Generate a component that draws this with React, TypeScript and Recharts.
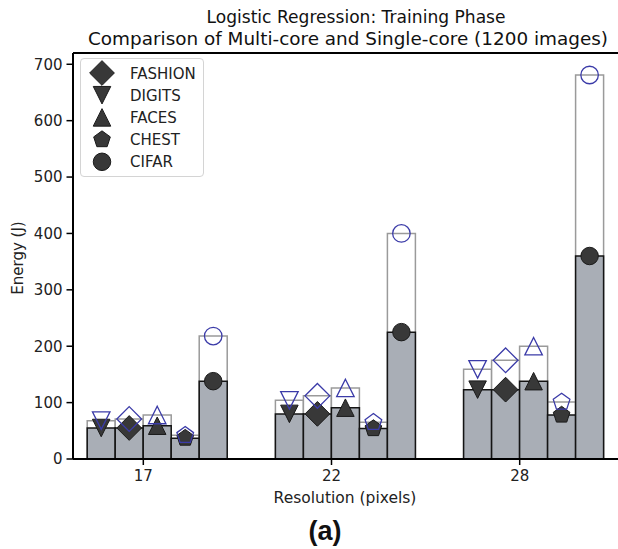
import React from 'react';
import { ComposedChart, Bar, XAxis, YAxis, Legend, ReferenceLine } from 'recharts';

// ---------- data ----------
const resolutions = ['17', '22', '28'];
const positions = [0, 1, 2];
// order of bars inside each group (left to right)
const barOrder = ['DIGITS', 'FASHION', 'FACES', 'CHEST', 'CIFAR'];
// order of entries in the legend
const legendOrder = ['FASHION', 'DIGITS', 'FACES', 'CHEST', 'CIFAR'];

// Single-core energy (J) – white bars, hollow blue markers
const singleDigits = [68, 104, 159];
const singleFashion = [71, 112, 175];
const singleFaces = [78, 126, 200];
const singleChest = [42, 65, 101];
const singleCifar = [218, 400, 681];

// Multi-core energy (J) – grey bars, filled dark markers
const multiDigits = [55, 80, 123];
const multiFashion = [55, 80, 123];
const multiFaces = [59, 91, 138];
const multiChest = [37, 54, 78];
const multiCifar = [138, 225, 360];

const yTicks = [0, 100, 200, 300, 400, 500, 600, 700];

const singleSeries: Record<string, number[]> = {
  DIGITS: singleDigits,
  FASHION: singleFashion,
  FACES: singleFaces,
  CHEST: singleChest,
  CIFAR: singleCifar,
};
const multiSeries: Record<string, number[]> = {
  DIGITS: multiDigits,
  FASHION: multiFashion,
  FACES: multiFaces,
  CHEST: multiChest,
  CIFAR: multiCifar,
};

const markerOf: Record<string, string> = {
  FASHION: 'diamond',
  DIGITS: 'triangleDown',
  FACES: 'triangleUp',
  CHEST: 'pentagon',
  CIFAR: 'circle',
};

const rows = positions.map((p, i) => {
  const r: Record<string, number | string> = { pos: p, label: resolutions[i] };
  barOrder.forEach((name) => {
    r[`${name}_s`] = singleSeries[name][i];
    r[`${name}_m`] = multiSeries[name][i];
  });
  return r;
});

// ---------- styling ----------
const FONT = '"DejaVu Sans", sans-serif';
const BAR_SIZE = 28;
const HALF_BAR = BAR_SIZE / 2;
const MARKER = 17.5;
const BLUE = '#3b3ba8';
const GREY_FILL = '#a9aeb6';
const X_DOMAIN: [number, number] = [-0.448, 2.448];

function Marker({ shape, cx, cy, size, fill, stroke, strokeWidth }: any) {
  const h = size / 2;
  const common = { fill, stroke, strokeWidth, strokeLinejoin: 'miter' as const };
  if (shape === 'circle') return <circle cx={cx} cy={cy} r={h} {...common} />;
  let pts: [number, number][] = [];
  if (shape === 'diamond') {
    const d = size / Math.SQRT2;
    pts = [[cx, cy - d], [cx + d, cy], [cx, cy + d], [cx - d, cy]];
  } else if (shape === 'triangleUp') {
    pts = [[cx, cy - h], [cx + h, cy + h], [cx - h, cy + h]];
  } else if (shape === 'triangleDown') {
    pts = [[cx, cy + h], [cx + h, cy - h], [cx - h, cy - h]];
  } else if (shape === 'pentagon') {
    for (let k = 0; k < 5; k++) {
      const a = (-90 + k * 72) * (Math.PI / 180);
      pts.push([cx + h * Math.cos(a), cy + h * Math.sin(a)]);
    }
  }
  return <polygon points={pts.map((p) => p.join(',')).join(' ')} {...common} />;
}

const XTick = (props: any) => {
  const { x, y, payload } = props;
  const tx = x - HALF_BAR;
  return (
    <g>
      <line x1={tx} x2={tx} y1={y - 8} y2={y - 2} stroke="#000" strokeWidth={1.5} />
      <text x={tx} y={y + 14} textAnchor="middle" fontSize={15} fill="#222" fontFamily={FONT}>
        {resolutions[payload.value]}
      </text>
    </g>
  );
};

const LegendBox = () => (
  <div
    style={{
      width: 124,
      height: 119,
      boxSizing: 'border-box',
      border: '1px solid #d4d4d4',
      borderRadius: 4,
      background: 'rgba(255,255,255,0.85)',
    }}
  >
    <svg width={122} height={117} style={{ display: 'block' }}>
      {legendOrder.map((name, i) => {
        const cy = 14 + i * 22.2;
        return (
          <g key={name}>
            <Marker shape={markerOf[name]} cx={21} cy={cy} size={MARKER} fill="#383838" stroke="#1a1a1a" strokeWidth={1} />
            <text x={49} y={cy + 5.5} fontSize={15} fill="#222" fontFamily={FONT}>
              {name}
            </text>
          </g>
        );
      })}
    </svg>
  </div>
);

const hiddenX = (id: string) => (
  <XAxis
    key={id}
    xAxisId={id}
    dataKey="pos"
    type="number"
    domain={X_DOMAIN}
    ticks={positions}
    allowDataOverflow
    height={0}
    hide
  />
);

export default function App() {
  return (
    <div style={{ position: 'absolute', left: 0, top: 0, width: 618, height: 549, overflow: 'hidden', background: '#fff' }}>
      <ComposedChart
        width={618}
        height={549}
        data={rows}
        margin={{ top: 53, right: 0, bottom: 60, left: 0 }}
        barGap={0}
        barSize={BAR_SIZE}
      >
        <XAxis
          xAxisId="s"
          dataKey="pos"
          type="number"
          domain={X_DOMAIN}
          ticks={positions}
          allowDataOverflow
          interval={0}
          height={30}
          tickLine={false}
          tick={<XTick />}
          axisLine={{ stroke: '#000', strokeWidth: 2 }}
        />
        {hiddenX('m')}
        {hiddenX('mk')}
        {hiddenX('bl')}
        <YAxis
          domain={[0, 720]}
          ticks={yTicks}
          allowDataOverflow
          width={73}
          tickSize={6.5}
          tickMargin={4}
          tick={{ fill: '#222', fontSize: 15, fontFamily: FONT }}
          tickLine={{ stroke: '#000', strokeWidth: 1.5 }}
          axisLine={{ stroke: '#000', strokeWidth: 2 }}
        />
        <ReferenceLine y={720} stroke="#000" strokeWidth={2} />
        {barOrder.map((name) => (
          <Bar
            key={`s-${name}`}
            xAxisId="s"
            dataKey={`${name}_s`}
            fill="#ffffff"
            stroke="#9a9a9a"
            strokeWidth={1.5}
            isAnimationActive={false}
          />
        ))}
        {barOrder.map((name) => (
          <Bar
            key={`m-${name}`}
            xAxisId="m"
            dataKey={`${name}_m`}
            fill={GREY_FILL}
            stroke="#141414"
            strokeWidth={1.5}
            isAnimationActive={false}
          />
        ))}
        {barOrder.map((name) => (
          <Bar
            key={`mk-${name}`}
            xAxisId="mk"
            dataKey={`${name}_m`}
            fill="none"
            isAnimationActive={false}
            shape={(p: any) => (
              <Marker shape={markerOf[name]} cx={p.x + p.width / 2} cy={p.y} size={MARKER} fill="#383838" stroke="#1a1a1a" strokeWidth={1} />
            )}
          />
        ))}
        {barOrder.map((name) => (
          <Bar
            key={`bl-${name}`}
            xAxisId="bl"
            dataKey={`${name}_s`}
            fill="none"
            isAnimationActive={false}
            shape={(p: any) => (
              <Marker shape={markerOf[name]} cx={p.x + p.width / 2} cy={p.y} size={MARKER} fill="none" stroke={BLUE} strokeWidth={1.3} />
            )}
          />
        ))}
        <Legend
          layout="vertical"
          align="center"
          verticalAlign="middle"
          content={<LegendBox />}
          wrapperStyle={{ left: 80, top: 58, width: 124, height: 119 }}
        />
      </ComposedChart>
      <svg width={618} height={549} style={{ position: 'absolute', left: 0, top: 0, pointerEvents: 'none' }}>
        <text x={356} y={23} textAnchor="middle" fontSize={17.1} fill="#111" fontFamily={FONT}>
          Logistic Regression: Training Phase
        </text>
        <text x={348} y={45} textAnchor="middle" fontSize={18.4} fill="#111" fontFamily={FONT}>
          Comparison of Multi-core and Single-core (1200 images)
        </text>
        <text x={345} y={503} textAnchor="middle" fontSize={15.5} fill="#222" fontFamily={FONT}>
          Resolution (pixels)
        </text>
        <text
          x={0}
          y={0}
          transform="translate(23,258) rotate(-90)"
          textAnchor="middle"
          fontSize={15}
          fill="#222"
          fontFamily={FONT}
        >
          Energy (J)
        </text>
        <text x={325} y={540} textAnchor="middle" fontSize={27} fontWeight="bold" fill="#111" fontFamily='"Liberation Sans", Arial, sans-serif'>
          (a)
        </text>
      </svg>
    </div>
  );
}
